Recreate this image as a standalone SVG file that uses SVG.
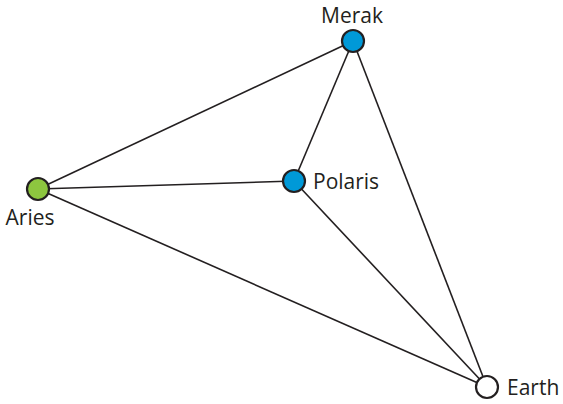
<svg xmlns="http://www.w3.org/2000/svg" width="563" height="404" viewBox="0 0 563 404">
<style>
.edge{stroke:#231f20;stroke-width:1.6;fill:none}
.node{stroke:#231f20;stroke-width:2.2}
.lbl{font-family:"Open Sans","Liberation Sans",sans-serif;font-size:21px;fill:#231f20}
</style>
<rect width="563" height="404" fill="#ffffff"/>
<g id="connectors">
<line class="edge" x1="38" y1="189" x2="353" y2="41"/>
<line class="edge" x1="38" y1="189" x2="294" y2="181"/>
<line class="edge" x1="38" y1="189" x2="487" y2="387"/>
<line class="edge" x1="294" y1="181" x2="353" y2="41"/>
<line class="edge" x1="294" y1="181" x2="487" y2="387"/>
<line class="edge" x1="353" y1="41" x2="487" y2="387"/>
</g>
<g id="merak"><circle class="node" cx="353" cy="41" r="11" fill="#0099d8"/><text class="lbl" x="352" y="23" text-anchor="middle">Merak</text></g>
<g id="aries"><circle class="node" cx="38" cy="189" r="11" fill="#8dc63f"/><text class="lbl" x="30" y="225" text-anchor="middle">Aries</text></g>
<g id="polaris"><circle class="node" cx="294" cy="181" r="11" fill="#0099d8"/><text class="lbl" x="313" y="189">Polaris</text></g>
<g id="earth"><circle class="node" cx="487" cy="387" r="11" fill="#ffffff"/><text class="lbl" x="507" y="395">Earth</text></g>
</svg>
